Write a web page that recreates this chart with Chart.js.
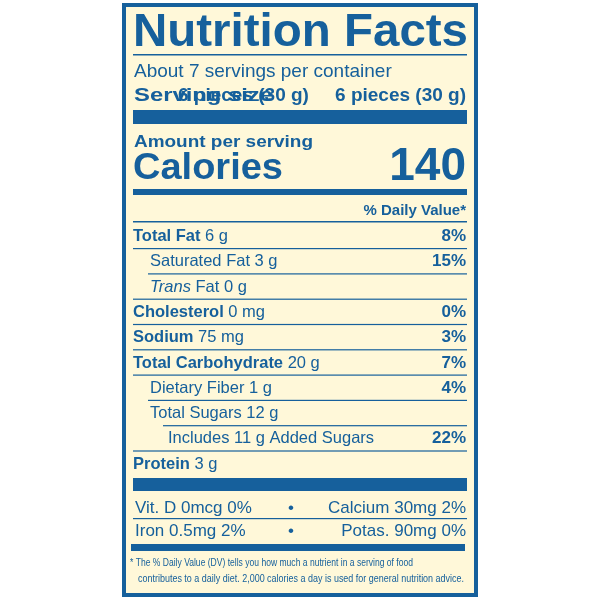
<!DOCTYPE html><html><head><meta charset="utf-8"><script src="https://cdn.jsdelivr.net/npm/chart.js@4"></script>
<style>html,body{margin:0;background:#fff}#w{width:600px;height:600px}</style></head><body><div id="w"><canvas id="c"></canvas></div>
<script>
const servings = "About 7 servings per container";
const servingSize = ["Serving size", "6 pieces (30 g)"];
const calories = 140;
const nutrientNames = ["Total Fat","Saturated Fat","Trans Fat","Cholesterol","Sodium","Total Carbohydrate","Dietary Fiber","Total Sugars","Includes 11 g Added Sugars","Protein"];
const nutrientAmounts = ["6 g","3 g","0 g","0 mg","75 mg","20 g","1 g","12 g","","3 g"];
const nutrientDV = ["8%","15%","","0%","3%","7%","4%","","22%",""];
const nutrientLevel = [0,1,1,0,0,0,1,1,2,0];
const vitaminsLeft = ["Vit. D 0mcg 0%","Iron 0.5mg 2%"];
const vitaminsRight = ["Calcium 30mg 2%","Potas. 90mg 0%"];
const footnote = ["* The % Daily Value (DV) tells you how much a nutrient in a serving of food","contributes to a daily diet. 2,000 calories a day is used for general nutrition advice."];

const BLUE="#16609c", BG="#fff8d9", F="'Liberation Sans', Arial, sans-serif";
const label={id:'label',afterDraw(ch){
 const c=ch.ctx, X=v=>ch.scales.x.getPixelForValue(v), Y=v=>ch.scales.y.getPixelForValue(v);
 c.save();
 c.fillStyle=BG;c.fillRect(X(122),Y(3),X(478)-X(122),Y(597)-Y(3));
 c.strokeStyle=BLUE;c.lineWidth=4;c.strokeRect(X(124),Y(5),X(476)-X(124),Y(595)-Y(5));
 c.fillStyle=BLUE;c.textBaseline='alphabetic';
 const fit=(t,x,y,font,w,align)=>{c.font=font;const m=c.measureText(t).width;c.save();c.translate(X(x),Y(y));const s=w?w/m:1;c.scale(s,1);c.textAlign=align||'left';c.fillText(t,0,0);c.restore();};
 const txt=(t,x,y,font,align)=>{c.font=font;c.textAlign=align||'left';c.fillText(t,X(x),Y(y));};
 const bar=(x1,y1,x2,h)=>c.fillRect(X(x1),Y(y1),X(x2)-X(x1),Y(y1+h)-Y(y1));
 fit("Nutrition Facts",133,46,"bold 47px "+F,335);
 bar(133,54,467,1.5);
 txt(servings,134,77,"19px "+F);
 fit(servingSize[0],134,101,"bold 19px "+F,139);
 fit(servingSize[1],178+0,101,"bold 19px "+F,0);
 fit(servingSize[1],466,101,"bold 19px "+F,0,'right');
 bar(133,110,467,14);
 fit("Amount per serving",134,147,"bold 16px "+F,179);
 fit("Calories",133,179,"bold 36px "+F,150);
 fit(String(calories),466,180,"bold 46px "+F,0,'right');
 bar(133,189,467,6);
 fit("% Daily Value*",466,215,"bold 15px "+F,0,'right');
 bar(133,221,467,1.5);
 const y0=241, dy=25.3;
 nutrientNames.forEach((n,i)=>{
  const y=y0+i*dy, lv=nutrientLevel[i], x=133+[0,17,35][lv];
  if(lv===0){c.font="bold 16.5px "+F;c.textAlign='left';c.fillText(n,X(x),Y(y));const w=c.measureText(n+" ").width;c.font="16.5px "+F;c.fillText(nutrientAmounts[i],X(x)+w,Y(y));}
  else if(n==="Trans Fat"){c.font="italic 16.5px "+F;c.textAlign='left';c.fillText("Trans",X(x),Y(y));const w=c.measureText("Trans ").width;c.font="16.5px "+F;c.fillText("Fat "+nutrientAmounts[i],X(x)+w,Y(y));}
  else txt(n+(nutrientAmounts[i]?" "+nutrientAmounts[i]:""),x,y,"16.5px "+F);
  if(nutrientDV[i])txt(nutrientDV[i],466,y,"bold 17px "+F,'right');
  if(i<nutrientNames.length-1){const nl=nutrientLevel[i+1];const lx=nl===2?163:(nl===1&&lv>=1?148:133);bar(lx,y+7,467,1.2);}
 });
 bar(133,478,467,13);
 [507+6,530+6].forEach((y,i)=>{txt(vitaminsLeft[i],135,y,"17px "+F);txt("•",291,y,"17px "+F,'center');txt(vitaminsRight[i],466,y,"17px "+F,'right');});
 bar(133,518,467,1.2);
 bar(131,544,465,7);
 fit(footnote[0],130,566,"11.5px "+F,283);
 fit(footnote[1],138,582,"11.5px "+F,326);
 c.restore();
}};
new Chart(document.getElementById('c'),{type:'scatter',data:{datasets:[{data:[]}]},
 options:{responsive:true,maintainAspectRatio:false,animation:false,layout:{padding:0},
 plugins:{legend:{display:false},tooltip:{enabled:false}},
 scales:{x:{type:'linear',min:0,max:600,display:false},y:{type:'linear',min:0,max:600,reverse:true,display:false}}},
 plugins:[label]});
</script></body></html>
